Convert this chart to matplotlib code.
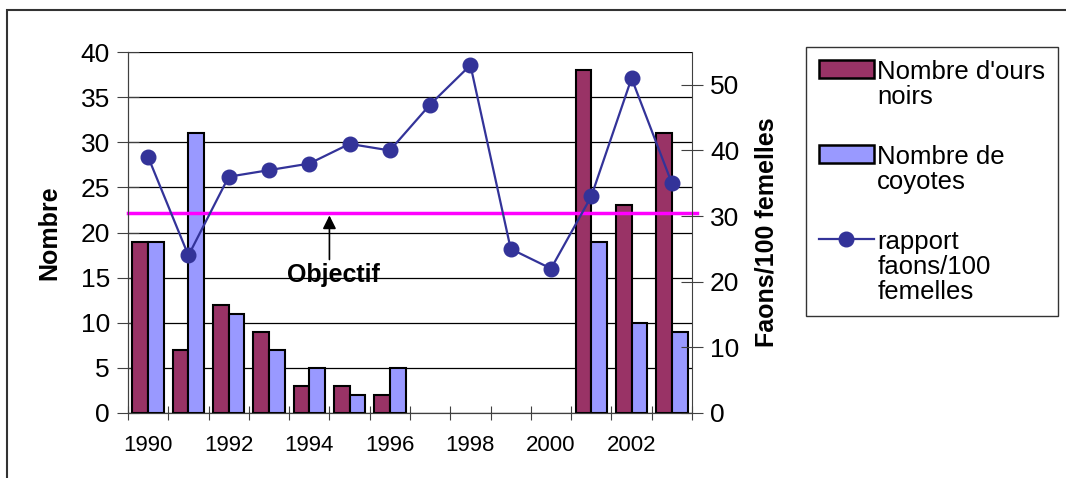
import numpy as np
import matplotlib
matplotlib.use("Agg")
import matplotlib.pyplot as plt
from matplotlib.patches import Rectangle, Patch
from matplotlib.lines import Line2D
from matplotlib.legend_handler import HandlerPatch, HandlerLine2D

plt.rcParams["font.family"] = ["Liberation Sans", "DejaVu Sans"]

# ---- data -----------------------------------------------------------
years = list(range(1990, 2004))
ours = [19, 7, 12, 9, 3, 3, 2, np.nan, np.nan, np.nan, np.nan, 38, 23, 31]
coyotes = [19, 31, 11, 7, 5, 2, 5, np.nan, np.nan, np.nan, np.nan, 19, 10, 9]
faons = [39, 24, 36, 37, 38, 41, 40, 47, 53, 25, 22, 33, 51, 35]
objectif = 22.2          # on the "Nombre" axis
year_labels = ["1990", "1992", "1994", "1996", "1998", "2000", "2002"]

C_OURS = "#993366"
C_COY = "#9999FF"
C_LINE = "#333399"
C_OBJ = "#FF00FF"

LEG_FS = 18.5
LEG_LS = 1.05


# legend handles sit on the first line of a multi-line label (Excel style)
class TopPatch(HandlerPatch):
    def create_artists(self, legend, orig_handle, xdescent, ydescent,
                       width, height, fontsize, trans):
        arts = super().create_artists(legend, orig_handle, xdescent, ydescent,
                                      width, height, fontsize, trans)
        dy = 0.5 * LEG_LS * 1.2 * fontsize * (self.nlines - 1)
        for a in arts:
            a.set_y(a.get_y() + dy)
        return arts


class TopLine(HandlerLine2D):
    def create_artists(self, legend, orig_handle, xdescent, ydescent,
                       width, height, fontsize, trans):
        arts = super().create_artists(legend, orig_handle, xdescent, ydescent,
                                      width, height, fontsize, trans)
        dy = 0.5 * LEG_LS * 1.2 * fontsize * (self.nlines - 1) - 3
        for a in arts:
            a.set_ydata(np.asarray(a.get_ydata()) + dy)
        return arts


fig = plt.figure(figsize=(10.66, 4.78), dpi=100)
ax = fig.add_axes([128 / 1066, 1 - 413 / 478, (692 - 128) / 1066, (413 - 52) / 478])
ax2 = ax.twinx()

x = np.arange(len(years))
w = 0.39
ax.bar(x - w / 2, ours, w, color=C_OURS, edgecolor="black", linewidth=1.5,
       zorder=3)
ax.bar(x + w / 2, coyotes, w, color=C_COY, edgecolor="black", linewidth=1.5,
       zorder=3)
ax.axhline(objectif, xmin=0, xmax=1.009, color=C_OBJ, lw=2.5, zorder=4,
           clip_on=False)

ax.annotate("", xy=(4.5, objectif), xytext=(4.5, 16.7),
            arrowprops=dict(arrowstyle="-|>", color="black", lw=1.2,
                            mutation_scale=20), zorder=5)
ax.text(4.6, 15.3, "Objectif", ha="center", va="center", fontsize=18,
        fontweight="bold", zorder=5)

ax2.plot(x, faons, color=C_LINE, lw=1.6, marker="o", markersize=10.5)

# ---- axes -----------------------------------------------------------
ax.set_xlim(-0.5, len(years) - 0.5)
ax.set_ylim(0, 40)
ax.set_yticks(np.arange(0, 41, 5))
ax.yaxis.grid(True, color="black", lw=0.9)
ax.set_axisbelow(True)
ax.set_xticks(np.arange(-0.5, len(years), 1))
ax.set_xticklabels([])
ax.set_xticks(np.arange(0, len(years), 2), minor=True)
ax.set_xticklabels(year_labels, minor=True, fontsize=16)
ax.tick_params(axis="x", which="major", direction="inout", length=10,
               color="#404040")
ax.tick_params(axis="x", which="minor", length=0, pad=16)
ax.tick_params(axis="y", direction="inout", length=16, labelsize=19,
               pad=5, color="#404040")
ax.set_ylabel("Nombre", fontsize=18, fontweight="bold", labelpad=14)

ax2.set_ylim(0, 55)
ax2.set_yticks(np.arange(0, 51, 10))
ax2.tick_params(axis="y", direction="inout", length=16, labelsize=19,
                pad=5, color="#404040")
ax2.set_ylabel("Faons/100 femelles", fontsize=18, fontweight="bold",
               labelpad=11)

for a in (ax, ax2):
    a.spines["top"].set_visible(False)
    for s in ("left", "right", "bottom"):
        a.spines[s].set_color("#404040")
ax.spines["right"].set_visible(False)

# ---- legend ---------------------------------------------------------
handles = [Patch(facecolor=C_OURS, edgecolor="black", lw=1.8),
           Patch(facecolor=C_COY, edgecolor="black", lw=1.8),
           Line2D([], [], color=C_LINE, lw=1.6, marker="o", markersize=10.5)]
labels = ["Nombre d'ours\nnoirs", "Nombre de\ncoyotes",
          "rapport\nfaons/100\nfemelles"]
hp2 = TopPatch()
hp2.nlines = 2
hl3 = TopLine()
hl3.nlines = 3
leg = fig.legend(handles, labels, loc="upper left",
                 bbox_to_anchor=(806 / 1066, 1 - 47 / 478), fontsize=LEG_FS,
                 frameon=True, fancybox=False, edgecolor="black",
                 handlelength=2.15, handleheight=0.7, handletextpad=0.12,
                 labelspacing=1.4, borderpad=0.5, borderaxespad=0,
                 handler_map={Patch: hp2, Line2D: hl3})
leg.get_frame().set_linewidth(1.0)
for t in leg.get_texts():
    t.set_linespacing(LEG_LS)

# outer frame of the original picture
fig.patches.append(Rectangle((7 / 1066, -0.1), 1.2, 1.1 - 10.5 / 478,
                             transform=fig.transFigure, fill=False,
                             edgecolor="#333333", lw=1.5))

fig.savefig("out.png", dpi=100)
